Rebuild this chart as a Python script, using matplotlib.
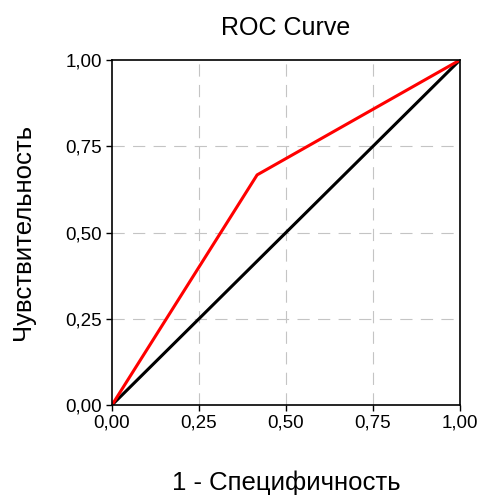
import matplotlib
matplotlib.use("Agg")
import matplotlib.pyplot as plt

plt.rcParams['font.family'] = ['Liberation Sans', 'DejaVu Sans']

roc_x = [0.0, 0.417, 1.0]
roc_y = [0.0, 0.667, 1.0]
ref_x = [0.0, 1.0]
ref_y = [0.0, 1.0]
ticks = [0.0, 0.25, 0.5, 0.75, 1.0]
tick_labels = ["0,00", "0,25", "0,50", "0,75", "1,00"]

fig = plt.figure(figsize=(4.81, 4.97), dpi=100)
ax = fig.add_axes([112/481, 1 - 405/497, 348/481, 345/497])

# dashed grey grid at the inner ticks only
for t in ticks[1:-1]:
    ax.axvline(t, color="#c4c4c4", lw=0.8, dashes=(11, 7.5), zorder=0)
    ax.axhline(t, color="#c4c4c4", lw=0.8, dashes=(11, 7.5), zorder=0)

ax.plot(ref_x, ref_y, color="black", lw=2.2, solid_capstyle="round")
ax.plot(roc_x, roc_y, color="red", lw=2.2, solid_capstyle="round", solid_joinstyle="round")

ax.set_xlim(0, 1)
ax.set_ylim(0, 1)
ax.set_xticks(ticks)
ax.set_xticklabels(tick_labels)
ax.set_yticks(ticks)
ax.set_yticklabels(tick_labels)
ax.tick_params(labelsize=13.5, length=4, width=1, pad=3, colors="black")
for s in ax.spines.values():
    s.set_linewidth(1.2)

ax.set_title("ROC Curve", fontsize=18, pad=18)
ax.set_xlabel("1 - Специфичность", fontsize=18.5, labelpad=28)
ax.set_ylabel("Чувствительность", fontsize=18.5, labelpad=22)

fig.savefig("out.png", dpi=100)
